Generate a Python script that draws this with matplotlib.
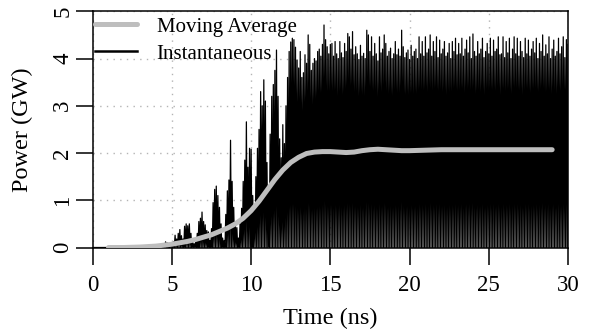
import numpy as np
import matplotlib

matplotlib.use("Agg")
import matplotlib.pyplot as plt  # noqa: E402
from matplotlib.lines import Line2D  # noqa: E402

plt.rcParams.update({
    "font.family": ["Liberation Serif", "DejaVu Serif"],
    "axes.linewidth": 1.1,
    "text.color": "black",
})

# Instantaneous power: one peak every 0.1 ns starting at 4.5 ns (GW).
PEAK_T0 = 4.5
PEAK_DT = 0.1
peak_gw = [
    0.08, 0.12, 0.10, 0.05, 0.04, 0.06, 0.12, 0.26, 0.18, 0.30,
    0.38, 0.25, 0.18, 0.45, 0.50, 0.46, 0.50, 0.30, 0.14, 0.08,
    0.12, 0.30, 0.55, 0.62, 0.75, 0.55, 0.48, 0.36, 0.33, 0.15,
    0.40, 0.95, 1.23, 1.30, 1.10, 0.85, 0.50, 0.20, 0.15, 0.70,
    1.20, 1.43, 2.27, 1.40, 0.85, 0.55, 0.42, 0.20, 0.50, 0.83,
    1.40, 1.85, 2.66, 1.70, 2.10, 2.08, 1.10, 0.90, 1.50, 2.10,
    2.50, 3.30, 3.00, 3.55, 3.10, 1.80, 1.20, 2.40, 3.20, 3.45,
    3.75, 4.18, 3.20, 2.30, 1.90, 2.60, 2.20, 3.00, 3.60, 4.15,
    4.35, 4.43, 4.40, 4.24, 3.97, 3.80, 4.15, 3.60, 3.70, 4.08,
    3.90, 4.50, 4.30, 3.75, 3.90, 4.00, 3.95, 4.15, 4.20, 4.05,
    4.30, 4.71, 4.40, 4.25, 4.10, 4.30,
    # 15.1 ns onwards: saturated regime
    4.32, 4.05, 4.36, 4.10, 4.00, 4.36, 4.12, 4.02, 4.32, 4.15,
    4.53, 4.46, 4.20, 4.57, 4.08, 4.25, 4.10, 3.98, 4.28, 4.05,
    4.11, 4.00, 4.60, 4.50, 4.15, 4.46, 4.05, 4.32, 4.10, 3.95,
    4.46, 4.12, 4.20, 4.50, 4.32, 4.05, 4.15, 4.22, 4.00, 4.10,
    4.36, 4.08, 4.20, 4.05, 4.60, 4.25, 4.02, 4.12, 4.18, 3.98,
    4.28, 4.05, 4.15, 4.20, 4.00, 4.46, 4.10, 4.36, 4.05, 4.46,
    4.12, 4.20, 4.50, 4.05, 4.36, 4.15, 4.46, 4.02, 4.39, 4.10,
    4.20, 4.36, 4.05, 4.12, 4.32, 4.00, 4.36, 4.15, 4.43, 4.08,
    4.32, 4.10, 4.43, 4.05, 4.20, 4.39, 4.12, 4.46, 4.00, 4.52,
    4.15, 4.05, 4.36, 4.10, 4.20, 4.43, 4.02, 4.15, 4.32, 4.10,
    4.43, 4.05, 4.39, 4.15, 4.20, 4.46, 4.08, 4.10, 4.46, 4.02,
    4.36, 4.12, 4.43, 4.00, 4.20, 4.46, 4.10, 4.43, 4.05, 4.36,
    4.15, 4.02, 4.43, 4.10, 4.39, 4.05, 4.20, 4.36, 4.12, 4.43,
    4.00, 4.32, 4.15, 4.50, 4.05, 4.29, 4.10, 4.46, 4.00, 4.20,
    4.39, 4.05, 4.15, 4.43, 4.10, 4.25, 4.46, 4.02, 4.40, 4.30,
]
TROUGH_GW = 0.0

# Moving average (GW)
avg_t = [1.0, 2.0, 3.0, 4.0, 4.5, 5.0, 5.5, 6.0, 6.5, 7.0, 7.5, 8.0, 8.5, 9.0, 9.5,
         10.0, 10.5, 11.0, 11.5, 12.0, 12.5, 13.0, 13.5, 14.0, 14.5, 15.0, 15.5,
         16.0, 16.5, 17.0, 17.5, 18.0, 19.0, 19.5, 20.0, 21.0, 22.0, 23.0, 24.0,
         25.0, 26.0, 27.0, 28.0, 29.0]
avg_gw = [0.0, 0.0, 0.01, 0.03, 0.05, 0.07, 0.10, 0.13, 0.17, 0.22, 0.27, 0.34, 0.41,
          0.50, 0.62, 0.78, 0.98, 1.21, 1.44, 1.64, 1.80, 1.91, 1.99, 2.02, 2.03, 2.03,
          2.02, 2.01, 2.02, 2.05, 2.07, 2.08, 2.06, 2.05, 2.05, 2.06, 2.07, 2.07, 2.07,
          2.07, 2.07, 2.07, 2.07, 2.07]

X_TICKS = [0, 5, 10, 15, 20, 25, 30]
Y_TICKS = [0, 1, 2, 3, 4, 5]

# zig-zag trace: flat at zero until the first peak, then trough/peak alternation
peak_t = PEAK_T0 + PEAK_DT * np.arange(len(peak_gw))
inst_t = [0.0]
inst_p = [0.0]
for t, p in zip(peak_t, peak_gw):
    inst_t += [t - PEAK_DT / 2, t]
    inst_p += [TROUGH_GW, p]

W, H = 595, 335
fig = plt.figure(figsize=(W / 100, H / 100), dpi=100)
ax = fig.add_axes([92.7 / W, 1 - 247.5 / H, (568 - 92.7) / W, (247.5 - 11.3) / H])

ax.plot(inst_t, inst_p, color="black", linewidth=0.9, zorder=2)
ax.plot(avg_t, avg_gw, color="#bebebe", linewidth=3.6, solid_capstyle="round", zorder=3)

ax.set_xlim(0, 30)
ax.set_ylim(0, 5)
ax.set_xticks(X_TICKS)
ax.set_yticks(Y_TICKS)
ax.grid(color="#b4b4b4", linestyle=(0, (1, 3.8)), linewidth=1.0)
ax.set_axisbelow(True)

ax.tick_params(direction="out", length=12.5, width=1.1, labelsize=16.5)
ax.tick_params(axis="x", pad=7)
ax.tick_params(axis="y", pad=1.5, labelrotation=90)
for lab in ax.get_yticklabels():
    lab.set_va("center")

ax.set_xlabel("Time (ns)", fontsize=17.5)
ax.set_ylabel("Power (GW)", fontsize=17.5)
ax.xaxis.set_label_coords(0.5, (247.5 - 318) / 236.2)
ax.xaxis.label.set_va("center")
ax.yaxis.set_label_coords((22 - 92.7) / 475.3, 0.5)
ax.yaxis.label.set_va("center")

handles = [Line2D([], [], color="#bebebe", linewidth=3.6, solid_capstyle="round"),
           Line2D([], [], color="black", linewidth=1.8)]
ax.legend(handles, ["Moving Average", "Instantaneous"], loc="upper left",
          bbox_to_anchor=(0.005, 0.975), frameon=False, fontsize=15,
          handlelength=2.0, handletextpad=0.95, labelspacing=0.35,
          borderpad=0, borderaxespad=0)

fig.savefig("out.png", dpi=100, facecolor="white")
